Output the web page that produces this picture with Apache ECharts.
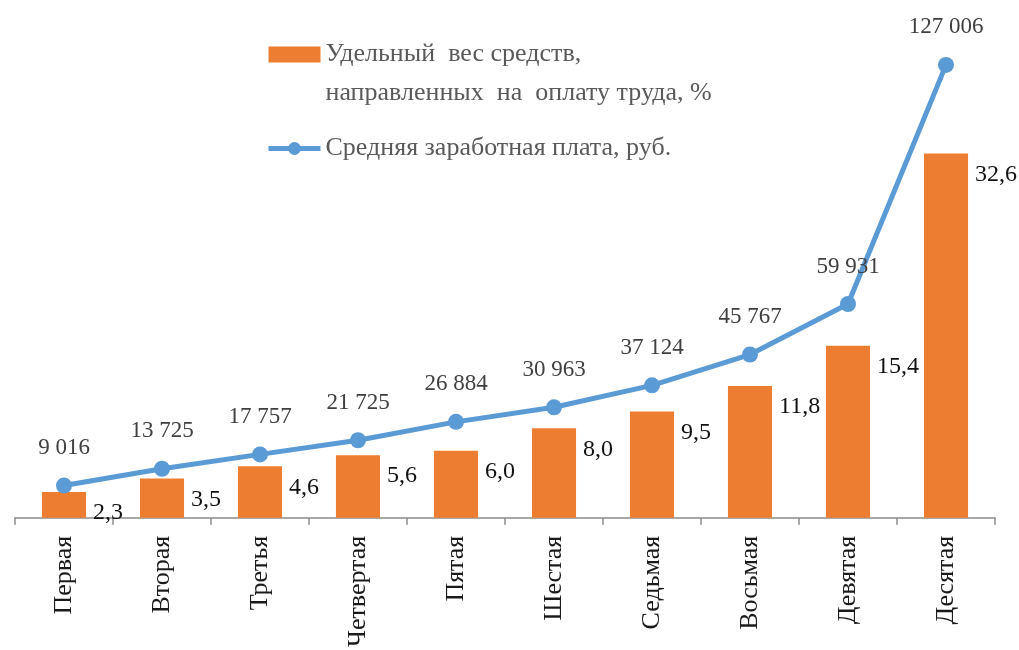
<!DOCTYPE html>
<html>
<head>
<meta charset="utf-8">
<script src="https://cdn.jsdelivr.net/npm/echarts@6/dist/echarts.min.js"></script>
<style>
    html, body { margin: 0; padding: 0; background: #fff; }
    #chart { width: 1019px; height: 650px; }
</style>
</head>
<body>
<div id="chart"></div>
<script>
// категории (децильные группы)
var groups = ['Первая', 'Вторая', 'Третья', 'Четвертая', 'Пятая', 'Шестая', 'Седьмая', 'Восьмая', 'Девятая', 'Десятая'];
// удельный вес средств на оплату труда, %
var shareValues = [2.3, 3.5, 4.6, 5.6, 6.0, 8.0, 9.5, 11.8, 15.4, 32.6];
// средняя заработная плата, руб.
var wageValues = [9016, 13725, 17757, 21725, 26884, 30963, 37124, 45767, 59931, 127006];

var barName = 'Удельный  вес средств,\nнаправленных  на  оплату труда, %';
var lineName = 'Средняя заработная плата, руб.';
var serif = '"Liberation Serif", "DejaVu Serif", serif';

var myChart = echarts.init(document.getElementById('chart'));

var option = {
    animation: false,
    textStyle: { fontFamily: serif },
    legend: {
        orient: 'vertical',
        left: 261,
        top: -9,
        itemWidth: 52,
        itemHeight: 16,
        itemGap: 16,
        data: [
            { name: barName, icon: 'rect' },
            { name: lineName, lineStyle: { width: 5 } }
        ],
        formatter: function (name) {
            // пустая первая строка, чтобы значок стоял напротив первой строки текста
            return name === barName ? '\n' + name : name;
        },
        textStyle: {
            fontFamily: serif,
            fontSize: 26,
            lineHeight: 39,
            color: '#595959'
        }
    },
    grid: {
        left: 15,
        right: 24,
        top: 15,
        bottom: 131
    },
    xAxis: {
        type: 'category',
        data: groups,
        axisLine: { lineStyle: { color: '#8c8c8c', width: 1.5 } },
        axisTick: { show: true, length: 7, lineStyle: { color: '#8c8c8c', width: 1.5 } },
        axisLabel: {
            rotate: 90,
            margin: 18,
            fontSize: 26,
            fontFamily: serif,
            color: '#1a1a1a'
        }
    },
    yAxis: [
        { type: 'value', min: 0, max: 45, show: false, splitLine: { show: false } },
        { type: 'value', min: 0, max: 141000, show: false, splitLine: { show: false } }
    ],
    series: [
        {
            name: barName,
            type: 'bar',
            yAxisIndex: 0,
            data: shareValues,
            barWidth: '45%',
            itemStyle: { color: '#ED7D31' },
            label: {
                show: true,
                position: ['100%', 0],
                offset: [7, 9],
                fontSize: 24,
                fontFamily: serif,
                color: '#111',
                formatter: function (p) {
                    return p.value.toFixed(1).replace('.', ',');
                }
            }
        },
        {
            name: lineName,
            type: 'line',
            yAxisIndex: 1,
            data: wageValues,
            symbol: 'circle',
            symbolSize: 16,
            lineStyle: { color: '#5B9BD5', width: 5 },
            itemStyle: { color: '#5B9BD5' },
            label: {
                show: true,
                position: 'top',
                distance: 18,
                fontSize: 23,
                fontFamily: serif,
                color: '#404040',
                formatter: function (p) {
                    return String(p.value).replace(/\B(?=(\d{3})+(?!\d))/g, ' ');
                }
            }
        }
    ]
};

myChart.setOption(option);
</script>
</body>
</html>
